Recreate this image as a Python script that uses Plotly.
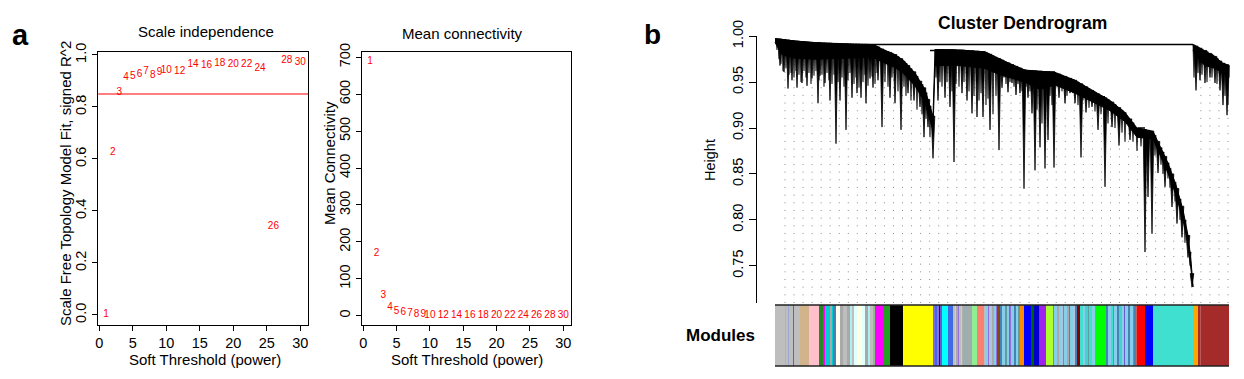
import numpy as np
import plotly.graph_objects as go

W, H = 1244, 379
FONT = "Liberation Sans, Arial, sans-serif"

# ---------------- Panel a : soft-threshold scan ----------------
powers = [1, 2, 3, 4, 5, 6, 7, 8, 9, 10, 12, 14, 16, 18, 20, 22, 24, 26, 28, 30]
sft_r2 = [0.003, 0.626, 0.857, 0.913, 0.917, 0.924, 0.938, 0.923, 0.933, 0.940,
          0.935, 0.964, 0.960, 0.968, 0.964, 0.963, 0.949, 0.342, 0.978, 0.970]
mean_k = [690, 169, 56, 22.7, 12.7, 8.0, 5.3, 3.6, 2.6, 1.9,
          1.2, 0.8, 0.6, 0.5, 0.4, 0.3, 0.3, 0.2, 0.2, 0.2]
r2_cut = 0.85

x_ticks = [0, 5, 10, 15, 20, 25, 30]
r2_ticks = [0.0, 0.2, 0.4, 0.6, 0.8, 1.0]
k_ticks = [0, 100, 200, 300, 400, 500, 600, 700]
height_ticks = [0.75, 0.80, 0.85, 0.90, 0.95, 1.00]

# ---------------- Panel b : dendrogram (leaf-order units) ----------------
# long branches: position in leaf order and leaf height
leaf_u = [5, 9, 13, 17, 22, 27, 32, 37, 43, 45, 50, 55, 61, 65, 71, 77, 82, 86, 91, 95, 98, 103,
          107, 115, 120, 126, 133, 139, 145, 149, 153, 158,
          163, 170, 175, 179, 187, 192, 197, 202, 208, 215, 224,
          227, 233, 237, 241, 245, 249, 253, 257, 260, 265, 270, 273, 279,
          284, 290, 295, 300, 306, 311, 317, 323, 330, 337, 344,
          355, 370, 373, 377, 383, 390, 397, 402, 407, 413, 417,
          421, 425, 430, 435, 440, 445, 448, 452]
leaf_h = [0.968, 0.961, 0.943, 0.952, 0.944, 0.949, 0.946, 0.954, 0.927, 0.957, 0.949, 0.930,
          0.883, 0.930, 0.898, 0.933, 0.938, 0.933, 0.927, 0.954, 0.944, 0.952,
          0.901, 0.933, 0.927, 0.898, 0.938, 0.930, 0.923, 0.890, 0.901, 0.867,
          0.930, 0.933, 0.923, 0.863, 0.938, 0.930, 0.916, 0.912, 0.912, 0.898, 0.876,
          0.944, 0.939, 0.949, 0.936, 0.938, 0.834, 0.933, 0.916, 0.854, 0.879, 0.856, 0.887, 0.857,
          0.933, 0.927, 0.938, 0.927, 0.868, 0.917, 0.923, 0.898, 0.836, 0.901, 0.881,
          0.887, 0.765, 0.825, 0.785, 0.851, 0.836, 0.814, 0.796, 0.781, 0.759, 0.727,
          0.941, 0.952, 0.949, 0.955, 0.949, 0.941, 0.925, 0.914]

# short branches (the "hair" under the dense mass)
minor_u = [2, 4, 6, 8, 11, 14, 16, 19, 21, 24, 26, 29, 31, 34, 36, 39, 41, 44, 47, 49, 52, 54,
           57, 59, 63, 67, 69, 73, 75, 79, 81, 84, 88, 90, 93, 97, 100, 102,
           110, 113, 117, 123, 129, 131, 136, 142, 147, 151, 155,
           161, 165, 167, 172, 177, 181, 184, 189, 194, 199, 204, 206, 211, 213, 218, 221,
           229, 231, 235, 239, 243, 247, 251, 255, 262, 267, 275, 277,
           282, 287, 292, 298, 303, 308, 314, 320, 326, 333, 340, 347, 350,
           358, 362, 366, 380, 386, 388, 393, 395, 400, 405, 410, 415,
           419, 423, 427, 432, 437, 442, 450, 453]
minor_h = [0.985, 0.975, 0.970, 0.962, 0.965, 0.958, 0.960, 0.955, 0.962, 0.958, 0.950, 0.962,
           0.955, 0.960, 0.948, 0.957, 0.962, 0.952, 0.958, 0.945, 0.960, 0.952, 0.948, 0.958,
           0.950, 0.955, 0.945, 0.952, 0.960, 0.948, 0.955, 0.944, 0.950, 0.958, 0.946, 0.956,
           0.948, 0.960,
           0.950, 0.945, 0.955, 0.940, 0.945, 0.935, 0.930, 0.920, 0.915, 0.910, 0.890,
           0.955, 0.950, 0.945, 0.950, 0.940, 0.948, 0.945, 0.950, 0.940, 0.935, 0.930, 0.938,
           0.925, 0.932, 0.915, 0.935,
           0.955, 0.948, 0.950, 0.945, 0.948, 0.940, 0.945, 0.940, 0.920, 0.905, 0.935, 0.925,
           0.945, 0.940, 0.935, 0.938, 0.925, 0.930, 0.922, 0.918, 0.915, 0.905, 0.900, 0.895,
           0.885,
           0.885, 0.875, 0.880, 0.870, 0.860, 0.850, 0.845, 0.835, 0.820, 0.800, 0.775, 0.750,
           0.955, 0.960, 0.958, 0.950, 0.955, 0.948, 0.935, 0.925]

# dense branch mass of the large cluster (upper / lower edge)
band_u = [0, 7, 20, 40, 65, 95, 100, 107, 120, 128, 140, 150, 158, 160, 185, 210, 225, 235,
          250, 265, 280, 300, 320, 335, 350, 362, 378, 385, 393, 401, 408, 413, 416, 418]
band_top = [0.9975, 0.9965, 0.9948, 0.993, 0.992, 0.991, 0.990, 0.986, 0.980, 0.974, 0.960,
            0.942, 0.913, 0.9855, 0.985, 0.983, 0.975, 0.970, 0.963, 0.962, 0.9605, 0.952,
            0.939, 0.930, 0.917, 0.900, 0.8964, 0.881, 0.862, 0.838, 0.811, 0.783, 0.756, 0.727]
band_bot = [0.9932, 0.980, 0.976, 0.975, 0.976, 0.977, 0.976, 0.972, 0.966, 0.960, 0.946,
            0.928, 0.897, 0.968, 0.968, 0.965, 0.958, 0.955, 0.950, 0.942, 0.947, 0.938,
            0.927, 0.919, 0.907, 0.890, 0.888, 0.871, 0.851, 0.827, 0.800, 0.774, 0.748, 0.727]

# small right-hand cluster
rband_u = [418, 425, 430, 440, 447, 454]
rband_top = [0.991, 0.987, 0.9845, 0.978, 0.971, 0.968]
rband_bot = [0.9845, 0.973, 0.968, 0.965, 0.960, 0.955]

# horizontal merge bars
merge_u0 = [40, 155, 252, 307, 362, 363, 447]
merge_u1 = [418, 178, 280, 330, 378, 370, 453]
merge_h = [0.991, 0.9845, 0.961, 0.934, 0.896, 0.900, 0.968]

# module colour strip (colour, width in leaves)
module_colors = [
    "#BEBEBE", "#D8A0B0", "#BEBEBE", "#9AA7D0", "#BEBEBE", "#6A5ACD", "#BEBEBE",
    "#D2B48C", "#FFC0CB", "#228B22", "#A020F0", "#228B22", "#FF00FF", "#00CED1",
    "#A9A9A9", "#00CED1", "#4682B4", "#FFFFF0", "#A9A9A9", "#BEBEBE", "#A9A9A9",
    "#AFEEEE", "#BEBEBE", "#E0FFFF", "#FFFFE0", "#E0FFFF", "#A9A9A9", "#AFEEEE",
    "#BEBEBE", "#8FBC8F", "#FF00FF", "#22A022", "#000000", "#FFFF00",
    "#7B68EE", "#4169E1", "#9370DB", "#0000FF", "#6A5ACD",
    "#00FFFF", "#4169E1",
    "#BEBEBE", "#FFB6C1", "#A9A9A9", "#9370DB", "#BEBEBE", "#FFB6C1", "#B0B0B0",
    "#9AB0B0", "#A9A9A9", "#9AB0B0",
    "#90EE90", "#FA8072",
    "#BEBEBE", "#87CEEB", "#9370DB", "#B0C4DE", "#A9A9A9", "#87CEEB", "#9370DB",
    "#8B4513",
    "#4682B4", "#87CEEB", "#5F9EA0", "#87CEEB", "#4682B4", "#9370DB", "#87CEEB",
    "#4682B4", "#87CEEB", "#5F9EA0",
    "#FF8C00", "#0000FF", "#006400", "#0000CD", "#A020F0", "#ADFF2F",
    "#9370DB", "#87CEEB", "#A9A9A9", "#87CEEB", "#B0C4DE", "#9370DB", "#87CEEB",
    "#A9A9A9", "#4682B4", "#87CEEB", "#B0C4DE", "#4682B4",
    "#8B0000",
    "#40E0D0", "#87CEEB", "#48D1CC", "#5F9EA0", "#40E0D0", "#87CEEB",
    "#00FF00",
    "#4682B4", "#87CEEB", "#40E0D0", "#9370DB", "#87CEEB", "#4682B4", "#48D1CC",
    "#87CEEB", "#6A5ACD", "#87CEEB", "#4682B4", "#87CEEB", "#9370DB", "#4682B4",
    "#CD5C5C",
    "#FF0000", "#0000FF", "#40E0D0", "#FFA500", "#A52A2A", "#BC5A5A", "#A52A2A",
]
module_widths = [
    10, 1, 2, 1, 4, 1, 6,
    9, 10, 2, 1, 1, 2, 5,
    2, 1, 3, 4, 3, 4, 3,
    2, 2, 3, 5, 3, 3, 2,
    3, 2, 9, 6, 13, 30,
    2, 2, 2, 1, 2,
    6, 5,
    2, 1, 2, 1, 2, 1, 1,
    4, 2, 3,
    5, 7,
    2, 2, 1, 3, 2, 2, 1,
    3,
    2, 3, 2, 2, 1, 1, 3,
    2, 2, 2,
    4, 7, 3, 5, 7, 7,
    1, 3, 2, 2, 2, 1, 3,
    2, 1, 3, 2, 2,
    3,
    3, 2, 3, 1, 3, 3,
    11,
    2, 3, 2, 1, 3, 2, 3,
    2, 1, 3, 2, 3, 1, 2,
    1,
    8, 8, 40, 5, 2, 1, 28,
]

# ---------------- styling constants ----------------
SPIKE_HALF = 1.8
MINOR_HALF = 1.1
GUIDE_COUNT = 50
Y3_RANGE = [0.7095, 1.0]


def py(p):
    return 1 - p / H


fig = go.Figure()

# panel a-1
fig.add_trace(go.Scatter(x=powers, y=sft_r2, mode="text", text=[str(p) for p in powers],
                         textfont=dict(color="#FF0000", size=10, family=FONT),
                         textposition="middle center", cliponaxis=False,
                         xaxis="x", yaxis="y", showlegend=False, hoverinfo="skip"))
# panel a-2
fig.add_trace(go.Scatter(x=powers, y=mean_k, mode="text", text=[str(p) for p in powers],
                         textfont=dict(color="#FF0000", size=10, family=FONT),
                         textposition="middle center", cliponaxis=False,
                         xaxis="x2", yaxis="y2", showlegend=False, hoverinfo="skip"))

# ---- dendrogram ----
n_leaves = int(np.sum(module_widths))


def ridge_top(u):
    if u >= rband_u[0] + 1:
        return float(np.interp(u, rband_u, rband_top))
    return float(np.interp(u, band_u, band_top))


# guide lines (dotted)
guide_u = np.linspace(10, n_leaves - 1, GUIDE_COUNT)
gx, gy = [], []
for u in guide_u:
    gx += [u, u, None]
    gy += [Y3_RANGE[0], ridge_top(u), None]
fig.add_trace(go.Scatter(x=gx, y=gy, mode="lines",
                         line=dict(color="#8a8a8a", width=1, dash="1px,6.67px"),
                         xaxis="x3", yaxis="y3", showlegend=False, hoverinfo="skip"))

# branch mass
mx = list(band_u) + list(band_u[::-1]) + [None] + list(rband_u) + list(rband_u[::-1])
my = list(band_top) + list(band_bot[::-1]) + [None] + list(rband_top) + list(rband_bot[::-1])
fig.add_trace(go.Scatter(x=mx, y=my, mode="lines", fill="toself", fillcolor="black",
                         line=dict(color="black", width=1),
                         xaxis="x3", yaxis="y3", showlegend=False, hoverinfo="skip"))


def wedges(us, hs, half):
    xs, ys = [], []
    for u, h in zip(us, hs):
        t = ridge_top(u)
        xs += [u - half, u + half, u, u - half, None]
        ys += [t, t, h, t, None]
    return xs, ys


for us, hs, half, lw in ((minor_u, minor_h, MINOR_HALF, 0.6), (leaf_u, leaf_h, SPIKE_HALF, 0.8)):
    sx, sy = wedges(us, hs, half)
    fig.add_trace(go.Scatter(x=sx, y=sy, mode="lines", fill="toself", fillcolor="black",
                             line=dict(color="black", width=lw),
                             xaxis="x3", yaxis="y3", showlegend=False, hoverinfo="skip"))

# merge bars
hx, hy = [], []
for a, b, h in zip(merge_u0, merge_u1, merge_h):
    hx += [a, b, None]
    hy += [h, h, None]
fig.add_trace(go.Scatter(x=hx, y=hy, mode="lines", line=dict(color="black", width=1.6),
                         xaxis="x3", yaxis="y3", showlegend=False, hoverinfo="skip"))

# module colour strip
mod_start = np.concatenate([[0], np.cumsum(module_widths)[:-1]])
fig.add_trace(go.Bar(x=module_widths, base=mod_start, y=[0] * len(module_widths),
                     orientation="h", width=1,
                     marker=dict(color=module_colors, line=dict(width=0)),
                     xaxis="x3", yaxis="y4", showlegend=False, hoverinfo="skip"))

axis_common = dict(showline=True, linecolor="black", linewidth=1, mirror=True,
                   ticks="outside", ticklen=5, tickwidth=1, tickcolor="black",
                   showgrid=False, zeroline=False, automargin=False,
                   tickfont=dict(size=14.5, family=FONT, color="black"))

shapes = [
    dict(type="line", xref="x domain", yref="y", x0=0, x1=1, y0=r2_cut, y1=r2_cut,
         line=dict(color="#FF0000", width=1)),
    dict(type="line", xref="x3", yref="y4 domain", x0=0, x1=n_leaves, y0=1, y1=1,
         line=dict(color="#222", width=1.5)),
    dict(type="line", xref="x3", yref="y4 domain", x0=0, x1=n_leaves, y0=0, y1=0,
         line=dict(color="#222", width=1.5)),
]

ann = []


def add_text(text, x, y, size, bold=False, angle=0):
    ann.append(dict(text=f"<b>{text}</b>" if bold else text, x=x / W, y=py(y),
                    xref="paper", yref="paper", showarrow=False, textangle=angle,
                    xanchor="center", yanchor="middle",
                    font=dict(size=size, family=FONT, color="black")))


add_text("a", 20, 35, 29, bold=True)
add_text("b", 652, 35, 28, bold=True)
add_text("Scale independence", 206, 32, 15)
add_text("Mean connectivity", 462, 33, 15)
add_text("Soft Threshold (power)", 205, 359, 15)
add_text("Soft Threshold (power)", 467, 359, 15)
add_text("Scale Free Topology Model Fit, signed R^2", 66, 184, 15, angle=-90)
add_text("Mean Connectivity", 330, 163, 15, angle=-90)
add_text("Height", 710, 160, 14.5, angle=-90)
add_text("Cluster Dendrogram", 1022, 23, 17.5, bold=True)
add_text("Modules", 720, 335, 17, bold=True)

fig.update_layout(
    template="none",
    width=W, height=H, autosize=False,
    margin=dict(l=0, r=0, t=0, b=0, pad=0),
    paper_bgcolor="white", plot_bgcolor="white",
    barmode="overlay", bargap=0, showlegend=False,
    font=dict(family=FONT, color="black"),
    xaxis=dict(domain=[98.2 / W, 308 / W], range=[-0.16, 31.16], tickvals=x_ticks,
               anchor="y", **axis_common),
    yaxis=dict(domain=[py(325), py(52)], range=[-0.0385, 1.0115], tickvals=r2_ticks,
               ticktext=[f"{v:.1f}" for v in r2_ticks], tickangle=-90, anchor="x",
               **axis_common),
    xaxis2=dict(domain=[362.2 / W, 571 / W], range=[-0.16, 31.16], tickvals=x_ticks,
                anchor="y2", **axis_common),
    yaxis2=dict(domain=[py(325), py(52)], range=[-25.2, 714.4], tickvals=k_ticks,
                tickangle=-90, anchor="x2", **axis_common),
    xaxis3=dict(domain=[757 / W, 1235 / W], range=[-18, 460], visible=False, anchor="y3",
                automargin=False),
    yaxis3=dict(domain=[py(303), py(36.2)], range=Y3_RANGE, tickvals=height_ticks,
                ticktext=[f"{v:.2f}" for v in height_ticks], tickangle=-90, anchor="x3",
                showline=True, linecolor="black", linewidth=1, ticks="outside", ticklen=7,
                tickcolor="black", showgrid=False, zeroline=False, automargin=False,
                tickfont=dict(size=14.5, family=FONT, color="black")),
    yaxis4=dict(domain=[py(366), py(305)], range=[-0.5, 0.5], visible=False, anchor="x3",
                automargin=False),
    shapes=shapes,
    annotations=ann,
)

fig.write_html("out.html", config={"displayModeBar": False, "staticPlot": True},
               post_script="document.body.style.margin='0';document.body.style.overflow='hidden';")
